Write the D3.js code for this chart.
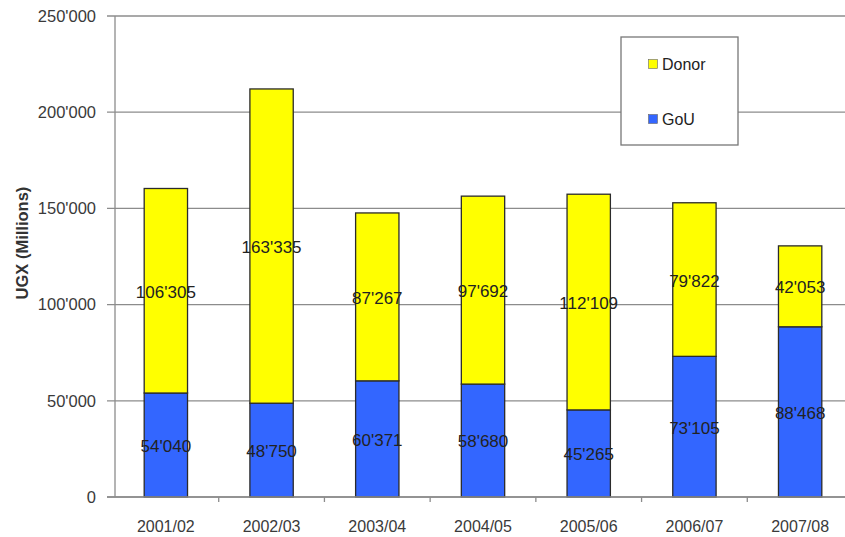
<!DOCTYPE html>
<html>
<head>
<meta charset="utf-8">
<script src="https://cdn.jsdelivr.net/npm/d3@7"></script>
<style>
  html, body { margin: 0; padding: 0; background: #fff; }
  svg { display: block; font-family: Arial, "Liberation Sans", sans-serif; }
</style>
</head>
<body>
<div id="chart"></div>
<script>
const years = ['2001/02', '2002/03', '2003/04', '2004/05', '2005/06', '2006/07', '2007/08']
const gouValues = [54040, 48750, 60371, 58680, 45265, 73105, 88468]
const donorValues = [106305, 163335, 87267, 97692, 112109, 79822, 42053]
const yTicks = [0, 50000, 100000, 150000, 200000, 250000]
const seriesNames = ['Donor', 'GoU']

const width = 845
const height = 537
const plot = { left: 115, top: 16, bottom: 497, right: 845 }

const fmt = (v) => d3.format(',')(v).replace(/,/g, "'")

const svg = d3.select('#chart')
  .append('svg')
  .attr('width', width)
  .attr('height', height)

const x = d3.scaleBand()
  .domain(years)
  .range([113, 853])
  .paddingInner(0.59)
  .paddingOuter(0.295)

const y = d3.scaleLinear()
  .domain([0, 250000])
  .range([plot.bottom, plot.top])

// gridlines
svg.append('g')
  .selectAll('line')
  .data(yTicks)
  .join('line')
  .attr('x1', 107)
  .attr('x2', plot.right)
  .attr('y1', (d) => y(d))
  .attr('y2', (d) => y(d))
  .attr('stroke', '#8c8c8c')
  .attr('stroke-width', 1.3)

// y axis line
svg.append('line')
  .attr('x1', plot.left)
  .attr('x2', plot.left)
  .attr('y1', plot.top)
  .attr('y2', plot.bottom)
  .attr('stroke', '#8c8c8c')
  .attr('stroke-width', 1.3)

// y tick labels
svg.append('g')
  .selectAll('text')
  .data(yTicks)
  .join('text')
  .attr('x', 96)
  .attr('y', (d) => y(d))
  .attr('dy', '0.35em')
  .attr('text-anchor', 'end')
  .attr('font-size', 16.5)
  .attr('fill', '#3a3a3a')
  .text((d) => fmt(d))

// y axis title
svg.append('text')
  .attr('transform', `translate(28,243) rotate(-90)`)
  .attr('text-anchor', 'middle')
  .attr('font-size', 16.5)
  .attr('font-weight', 'bold')
  .attr('fill', '#333')
  .text('UGX (Millions)')

// category tick marks between bands
const step = x.step()
svg.append('g')
  .selectAll('line')
  .data(years.slice(0, -1))
  .join('line')
  .attr('x1', (d) => x(d) + x.bandwidth() / 2 + step / 2)
  .attr('x2', (d) => x(d) + x.bandwidth() / 2 + step / 2)
  .attr('y1', plot.bottom)
  .attr('y2', plot.bottom + 5)
  .attr('stroke', '#8c8c8c')
  .attr('stroke-width', 1.3)

// x tick labels
svg.append('g')
  .selectAll('text')
  .data(years)
  .join('text')
  .attr('x', (d) => x(d) + x.bandwidth() / 2)
  .attr('y', 532)
  .attr('text-anchor', 'middle')
  .attr('font-size', 16)
  .attr('fill', '#3a3a3a')
  .text((d) => d)

const stackData = years.map((yr, i) => ({ year: yr, GoU: gouValues[i], Donor: donorValues[i] }))
const stacked = d3.stack().keys(['GoU', 'Donor'])(stackData)
const colors = { GoU: '#3366ff', Donor: '#ffff00' }

const layers = svg.append('g')
  .selectAll('g')
  .data(stacked)
  .join('g')
  .attr('fill', (d) => colors[d.key])

layers.selectAll('rect')
  .data((d) => d)
  .join('rect')
  .attr('x', (d) => x(d.data.year))
  .attr('width', x.bandwidth())
  .attr('y', (d) => y(d[1]))
  .attr('height', (d) => y(d[0]) - y(d[1]))
  .attr('stroke', '#2b2b2b')
  .attr('stroke-width', 1.3)

// x axis line on top of bars
svg.append('line')
  .attr('x1', 107)
  .attr('x2', plot.right)
  .attr('y1', plot.bottom)
  .attr('y2', plot.bottom)
  .attr('stroke', '#8c8c8c')
  .attr('stroke-width', 1.3)

// value labels
layers.selectAll('text')
  .data((d) => d.map((p) => ({ p, key: d.key })))
  .join('text')
  .attr('x', (d) => x(d.p.data.year) + x.bandwidth() / 2)
  .attr('y', (d) => (y(d.p[0]) + y(d.p[1])) / 2 + 1)
  .attr('dy', '0.35em')
  .attr('text-anchor', 'middle')
  .attr('font-size', 17)
  .attr('fill', '#222')
  .text((d) => fmt(d.p.data[d.key]))

// legend
const legend = svg.append('g')
legend.append('rect')
  .attr('x', 621)
  .attr('y', 37)
  .attr('width', 117)
  .attr('height', 108)
  .attr('fill', '#fff')
  .attr('stroke', '#777')
  .attr('stroke-width', 1.3)

const legendItems = legend.selectAll('g')
  .data(seriesNames)
  .join('g')
  .attr('transform', (d, i) => `translate(653,${64 + i * 55})`)

legendItems.append('rect')
  .attr('x', -4.5)
  .attr('y', -4.5)
  .attr('width', 9)
  .attr('height', 9)
  .attr('fill', (d) => colors[d])
  .attr('stroke', '#666')
  .attr('stroke-width', 0.6)

legendItems.append('text')
  .attr('x', 9)
  .attr('dy', '0.35em')
  .attr('font-size', 16)
  .attr('fill', '#222')
  .text((d) => d)
</script>
</body>
</html>
